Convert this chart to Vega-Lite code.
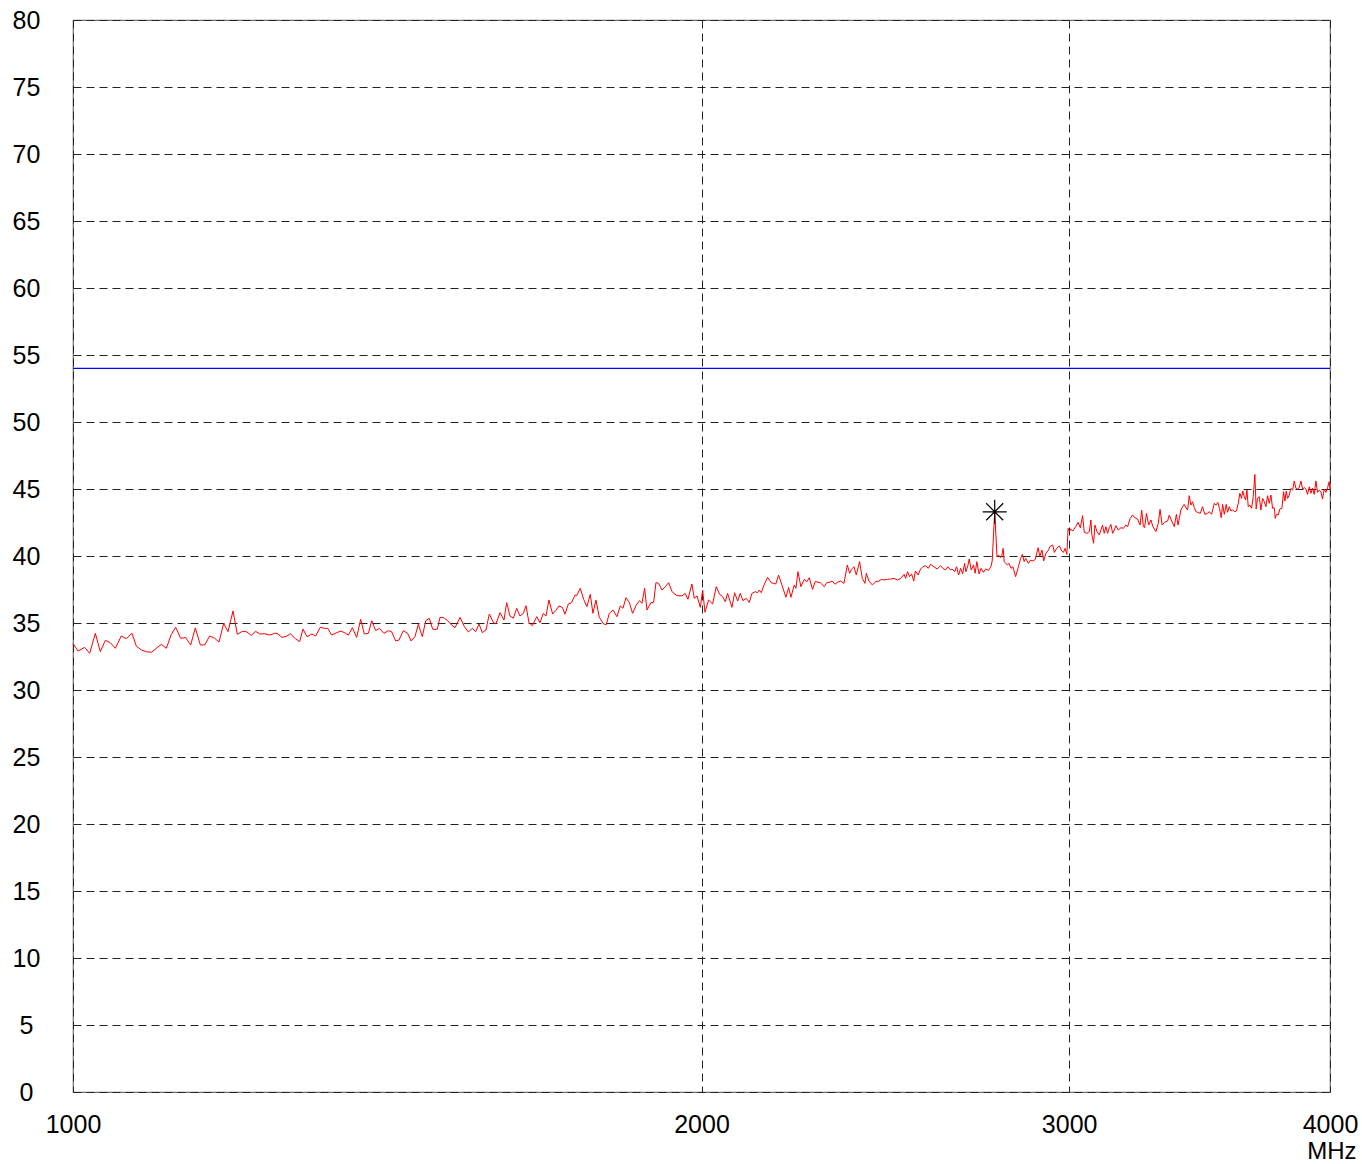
{
  "$schema": "https://vega.github.io/schema/vega-lite/v6.json",
  "width": 1257,
  "height": 1072,
  "autosize": {"type": "none"},
  "padding": {"left": 73, "top": 20, "right": 32, "bottom": 72},
  "background": "white",
  "config": {
    "view": {"stroke": "#707070", "strokeWidth": 1.2},
    "font": "Liberation Sans",
    "axis": {"labelFont": "Liberation Sans", "titleFont": "Liberation Sans", "labelColor": "#000", "titleColor": "#000"}
  },
  "datasets": {
    "trace": [
      {"f":1000,"v":33.48},{"f":1005.5,"v":32.91},{"f":1012.9,"v":33.18},{"f":1018.6,"v":32.74},{"f":1024.9,"v":34.23},{"f":1030.6,"v":32.86},{"f":1036.3,"v":33.71},{"f":1042.0,"v":33.53},{"f":1047.8,"v":33.11},{"f":1054.7,"v":34.03},{"f":1060.6,"v":33.83},{"f":1067.2,"v":34.23},{"f":1072.3,"v":33.28},{"f":1078.3,"v":32.99},{"f":1084.2,"v":32.86},{"f":1090.2,"v":32.81},{"f":1096.3,"v":33.11},{"f":1102.3,"v":33.41},{"f":1108.4,"v":33.11},{"f":1114.5,"v":34.15},{"f":1119.9,"v":34.68},{"f":1126.1,"v":33.86},{"f":1132.3,"v":33.91},{"f":1138.6,"v":33.36},{"f":1144.4,"v":34.63},{"f":1150.8,"v":33.36},{"f":1156.3,"v":33.36},{"f":1162.7,"v":34.03},{"f":1169.1,"v":33.86},{"f":1174.7,"v":33.58},{"f":1180.8,"v":34.97},{"f":1186.4,"v":34.35},{"f":1193.0,"v":35.9},{"f":1198.7,"v":34.15},{"f":1205.3,"v":34.38},{"f":1210.6,"v":34.35},{"f":1217.3,"v":34.08},{"f":1223.2,"v":34.38},{"f":1228.6,"v":34.18},{"f":1235.4,"v":34.2},{"f":1242.2,"v":34.1},{"f":1249.1,"v":34.23},{"f":1252.3,"v":34.23},{"f":1259.2,"v":33.93},{"f":1265.2,"v":34.0},{"f":1270.8,"v":34.2},{"f":1277.9,"v":33.83},{"f":1284.0,"v":33.61},{"f":1288.7,"v":34.55},{"f":1294.4,"v":33.98},{"f":1301.6,"v":34.18},{"f":1306.8,"v":34.03},{"f":1313.6,"v":34.68},{"f":1319.9,"v":34.6},
      {"f":1324.3,"v":34.6},{"f":1330.1,"v":34.1},{"f":1337.5,"v":34.28},{"f":1343.9,"v":34.4},{"f":1350.8,"v":34.23},{"f":1354.8,"v":34.1},{"f":1360.8,"v":34.65},{"f":1367.3,"v":33.93},{"f":1373.4,"v":35.27},{"f":1378.9,"v":34.18},{"f":1385.1,"v":34.23},{"f":1390.2,"v":35.17},{"f":1396.3,"v":34.43},{"f":1401.9,"v":34.6},{"f":1409.2,"v":34.23},{"f":1415.9,"v":34.43},{"f":1421.1,"v":34.35},{"f":1427.4,"v":33.66},{"f":1432.7,"v":33.73},{"f":1439.5,"v":34.43},{"f":1446.4,"v":34.23},{"f":1451.8,"v":33.66},{"f":1458.1,"v":33.98},{"f":1463.5,"v":34.9},{"f":1470.0,"v":33.98},{"f":1475.5,"v":35.17},{"f":1481.4,"v":35.35},{"f":1486.9,"v":34.53},{"f":1494.5,"v":34.53},{"f":1498.9,"v":35.42},{"f":1504.5,"v":35.42},{"f":1511.6,"v":35.17},{"f":1518.3,"v":34.85},{"f":1524.0,"v":34.65},{"f":1532.5,"v":35.42},{"f":1539.7,"v":34.73},{"f":1546.5,"v":34.33},{"f":1553.4,"v":34.6},{"f":1559.1,"v":34.35},{"f":1564.8,"v":34.93},{"f":1570.6,"v":34.28},{"f":1576.9,"v":34.48},{"f":1582.7,"v":35.67},{"f":1589.7,"v":35.05},{"f":1594.3,"v":34.93},{"f":1601.5,"v":35.77},{"f":1608.5,"v":35.22},{"f":1613.3,"v":36.52},{"f":1619.2,"v":35.52},{"f":1625.2,"v":35.35},{"f":1631.2,"v":36.1},{"f":1637.1,"v":35.52},{"f":1643.2,"v":35.72},{"f":1648.0,"v":36.29},{"f":1653.5,"v":35.02},{"f":1659.6,"v":34.8},{"f":1667.6,"v":35.47},{"f":1673.7,"v":35.02},{"f":1679.8,"v":35.72},{"f":1684.8,"v":35.52},{"f":1690.3,"v":36.72},{"f":1697.2,"v":35.67},{"f":1702.8,"v":35.92},{"f":1709.1,"v":36.27},{"f":1715.4,"v":36.17},{"f":1720.4,"v":35.65},{"f":1726.8,"v":36.42},{"f":1733.1,"v":36.52},{"f":1739.5,"v":37.09},{"f":1742.8,"v":37.04},
      {"f":1749.7,"v":37.59},{"f":1756.2,"v":36.77},{"f":1762.6,"v":36.22},{"f":1769.1,"v":37.14},{"f":1774.3,"v":35.72},{"f":1780.2,"v":36.72},{"f":1786.8,"v":35.42},{"f":1795.3,"v":34.93},{"f":1800.6,"v":34.88},{"f":1806.6,"v":35.72},{"f":1813.9,"v":35.97},{"f":1821.9,"v":35.47},{"f":1828.7,"v":36.27},{"f":1834.1,"v":36.1},{"f":1840.2,"v":36.89},{"f":1847.0,"v":36.52},{"f":1853.6,"v":35.72},{"f":1861.2,"v":36.34},{"f":1868.1,"v":36.67},{"f":1872.9,"v":36.47},{"f":1878.4,"v":37.59},{"f":1883.3,"v":35.97},{"f":1891.5,"v":36.52},{"f":1897.1,"v":36.52},{"f":1902.0,"v":38.01},{"f":1907.6,"v":37.96},{"f":1914.7,"v":37.46},{"f":1921.7,"v":37.71},{"f":1928.8,"v":38.01},{"f":1935.9,"v":37.34},{"f":1946.5,"v":37.04},{"f":1957.3,"v":37.02},{"f":1964.5,"v":37.21},{"f":1970.3,"v":36.77},{"f":1979.0,"v":37.91},{"f":1984.1,"v":36.84},{"f":1990.2,"v":37.02},{"f":1997.4,"v":36.17},{"f":2002.5,"v":37.46},{"f":2007.7,"v":35.8},{"f":2015.7,"v":36.72},{"f":2024.7,"v":36.42},{"f":2032.8,"v":37.71},{"f":2040.4,"v":37.14},{"f":2047.1,"v":36.97},{"f":2053.2,"v":36.59},{"f":2058.4,"v":37.21},{"f":2068.3,"v":36.17},{"f":2074.4,"v":37.26},{"f":2081.3,"v":36.64},{"f":2087.3,"v":37.21},{"f":2093.5,"v":36.67},{"f":2101.2,"v":36.84},{"f":2108.2,"v":36.54},{"f":2114.4,"v":37.21},{"f":2122.2,"v":37.34},{"f":2127.6,"v":37.26},{"f":2131.5,"v":37.46},{"f":2136.2,"v":37.26},{"f":2141.8,"v":37.76},{"f":2151.2,"v":38.41},{"f":2159.8,"v":38.01},{"f":2170.8,"v":37.91},{"f":2177.5,"v":38.58},{"f":2185.4,"v":37.84},{"f":2195.2,"v":36.92},{"f":2201.7,"v":37.66},{"f":2207.3,"v":36.92},{"f":2215.5,"v":37.84},{"f":2219.5,"v":37.59},{"f":2224.4,"v":38.83},{"f":2231.7,"v":37.71},{"f":2239.9,"v":38.26},{"f":2246.6,"v":38.09},{"f":2252.4,"v":38.38},{"f":2260.6,"v":37.51},{"f":2267.1,"v":38.09},{"f":2279.8,"v":38.01},{"f":2290.0,"v":37.71},{"f":2296.6,"v":38.03},
      {"f":2301.9,"v":38.03},{"f":2310.4,"v":38.13},{"f":2317.2,"v":37.89},{"f":2323.1,"v":38.03},{"f":2331.7,"v":38.13},{"f":2340.3,"v":37.96},{"f":2348.9,"v":39.33},{"f":2355.0,"v":38.71},{"f":2360.2,"v":39.03},{"f":2366.2,"v":39.2},{"f":2372.3,"v":38.58},{"f":2380.9,"v":39.58},{"f":2388.1,"v":38.33},{"f":2395.1,"v":37.96},{"f":2398.7,"v":38.71},{"f":2405.7,"v":38.13},{"f":2414.6,"v":37.84},{"f":2423.5,"v":38.08},{"f":2432.4,"v":38.13},{"f":2439.6,"v":38.26},{"f":2445.8,"v":38.21},{"f":2455.0,"v":38.26},{"f":2464.0,"v":38.28},{"f":2473.1,"v":38.33},{"f":2482.1,"v":38.21},{"f":2491.3,"v":38.33},{"f":2500.5,"v":38.63},{"f":2505.0,"v":38.33},{"f":2510.2,"v":38.83},{"f":2515.7,"v":38.46},{"f":2521.5,"v":38.66},{"f":2527.5,"v":38.13},{"f":2532.0,"v":38.88},{"f":2539.5,"v":38.58},{"f":2546.7,"v":39.03},{"f":2553.0,"v":39.2},{"f":2560.7,"v":39.28},{"f":2568.3,"v":39.08},{"f":2574.8,"v":39.38},{"f":2584.4,"v":39.2},{"f":2593.7,"v":39.03},{"f":2603.2,"v":39.28},{"f":2609.9,"v":39.08},{"f":2617.4,"v":38.96},{"f":2624.1,"v":39.2},{"f":2631.7,"v":38.96},{"f":2636.5,"v":39.03},{"f":2644.2,"v":38.83},{"f":2649.9,"v":39.2},{"f":2655.6,"v":38.58},{"f":2661.6,"v":39.08},{"f":2667.4,"v":38.66},{"f":2673.3,"v":39.45},{"f":2677.1,"v":38.83},{"f":2683.0,"v":39.28},{"f":2686.9,"v":39.78},{"f":2692.8,"v":38.96},{"f":2699.6,"v":39.33},{"f":2704.6,"v":38.71},{"f":2709.5,"v":39.58},{"f":2716.3,"v":38.66},{"f":2722.4,"v":39.08},{"f":2729.3,"v":38.78},{"f":2736.1,"v":39.03},{"f":2744.7,"v":38.93},{"f":2751.9,"v":39.2},{"f":2755.9,"v":39.63},{"f":2763.5,"v":43.3},{"f":2770.6,"v":39.95},{"f":2775.3,"v":40.07},{"f":2780.5,"v":39.88},{"f":2785.2,"v":40.02},{"f":2789.3,"v":40.57},{"f":2792.7,"v":39.58},{"f":2802.2,"v":39.33},{"f":2807.4,"v":39.45},{"f":2813.6,"v":39.08},{"f":2819.5,"v":39.2},{"f":2828.0,"v":38.46},{"f":2836.6,"v":39.2},{"f":2843.8,"v":39.83},{"f":2849.1,"v":40.12},{"f":2854.9,"v":39.58},{"f":2859.5,"v":39.83},{"f":2868.1,"v":39.45},{"f":2874.3,"v":39.68},{"f":2882.6,"v":39.63},{"f":2890.0,"v":39.75},{"f":2899.1,"v":40.62},{"f":2904.5,"v":39.95},{"f":2911.4,"v":40.45},{"f":2917.0,"v":39.63},{"f":2924.0,"v":40.2},{"f":2932.5,"v":40.45},{"f":2937.3,"v":40.7},{"f":2946.0,"v":40.82},{"f":2951.6,"v":40.27},{"f":2959.0,"v":40.57},{"f":2967.9,"v":40.75},{"f":2975.6,"v":40.37},{"f":2981.0,"v":40.27},{"f":2986.6,"v":40.57},{"f":2992.4,"v":40.12},{"f":2996.5,"v":42.06},{"f":3000.8,"v":41.82},{"f":3004.8,"v":42.01},{"f":3012.4,"v":41.87},{"f":3021.6,"v":42.19},{"f":3029.4,"v":42.51},{"f":3037.2,"v":42.11},
      {"f":3044.8,"v":43.01},{"f":3050.4,"v":41.77},{"f":3059.4,"v":41.69},{"f":3067.5,"v":41.82},{"f":3072.9,"v":42.69},{"f":3076.2,"v":41.57},{"f":3082.0,"v":40.95},{"f":3086.5,"v":42.31},{"f":3093.3,"v":41.82},{"f":3101.3,"v":41.57},{"f":3106.9,"v":41.94},{"f":3112.6,"v":42.31},{"f":3118.4,"v":41.69},{"f":3124.1,"v":42.19},{"f":3129.9,"v":41.69},{"f":3135.7,"v":42.11},{"f":3141.4,"v":42.36},{"f":3147.3,"v":41.69},{"f":3153.0,"v":41.94},{"f":3158.9,"v":42.26},{"f":3166.9,"v":41.94},{"f":3176.3,"v":42.11},{"f":3185.6,"v":42.07},{"f":3193.4,"v":42.31},{"f":3199.8,"v":42.19},{"f":3208.9,"v":42.81},{"f":3217.3,"v":43.06},{"f":3225.1,"v":42.86},{"f":3234.9,"v":42.76},{"f":3244.1,"v":42.31},{"f":3249.9,"v":43.43},{"f":3255.8,"v":42.19},{"f":3260.3,"v":42.11},{"f":3267.0,"v":43.18},{"f":3275.0,"v":42.31},{"f":3283.2,"v":42.69},{"f":3290.3,"v":42.19},{"f":3301.3,"v":41.82},{"f":3309.7,"v":42.44},{"f":3316.4,"v":43.48},{"f":3323.9,"v":42.31},{"f":3332.7,"v":42.51},{"f":3344.0,"v":42.61},{"f":3350.3,"v":43.06},{"f":3357.4,"v":42.69},{"f":3368.7,"v":42.19},{"f":3376.8,"v":43.11},{"f":3382.8,"v":42.31},{"f":3393.4,"v":43.43},{"f":3399.6,"v":43.68},{"f":3405.8,"v":43.85},{"f":3412.2,"v":43.61},{"f":3418.8,"v":43.43},{"f":3424.8,"v":44.5},{"f":3431.2,"v":43.8},{"f":3437.6,"v":44.05},{"f":3443.9,"v":43.61},{"f":3450.2,"v":43.31},{"f":3456.6,"v":43.26},{"f":3466.9,"v":43.18},{"f":3475.3,"v":43.68},{"f":3484.3,"v":43.11},{"f":3494.8,"v":43.18},{"f":3500.8,"v":43.31},{"f":3510.2,"v":43.11},{"f":3520.9,"v":43.93},{"f":3527.4,"v":43.8},{"f":3534.4,"v":44.0},{"f":3540.9,"v":43.56},{"f":3547.7,"v":42.86},{"f":3553.2,"v":43.85},{"f":3559.8,"v":43.11},{"f":3567.5,"v":43.85},{"f":3572.7,"v":43.26},{"f":3579.4,"v":43.68},{"f":3585.9,"v":43.36},{"f":3592.4,"v":43.43},{"f":3601.3,"v":43.31},{"f":3608.1,"v":43.36},{"f":3615.0,"v":43.93},{"f":3621.5,"v":44.68},{"f":3628.2,"v":44.3},{"f":3633.4,"v":44.85},{"f":3639.1,"v":44.43},{"f":3644.4,"v":44.18},{"f":3649.8,"v":44.92},{"f":3655.1,"v":43.68},{"f":3661.8,"v":43.8},{"f":3668.5,"v":43.56},{"f":3675.3,"v":44.43},{"f":3681.9,"v":46.09},{"f":3687.2,"v":43.51},{"f":3692.8,"v":44.3},{"f":3699.7,"v":44.43},{"f":3706.4,"v":43.43},{"f":3713.5,"v":44.3},{"f":3720.3,"v":44.05},{"f":3727.1,"v":43.68},{"f":3733.9,"v":44.5},{"f":3740.8,"v":43.93},{"f":3747.7,"v":44.55},{"f":3754.5,"v":43.56},{"f":3761.4,"v":43.61},{"f":3765.6,"v":42.81},{"f":3771.1,"v":43.11},{"f":3778.1,"v":43.06},{"f":3785.0,"v":43.51},{"f":3793.4,"v":43.56},{"f":3800.4,"v":44.8},{"f":3806.0,"v":44.1},{"f":3811.6,"v":44.85},{"f":3817.2,"v":44.3},{"f":3824.2,"v":44.55},{"f":3831.2,"v":45.05},{"f":3838.6,"v":44.92},{"f":3845.4,"v":45.6},{"f":3852.4,"v":45.05},{"f":3859.4,"v":45.0},{"f":3866.6,"v":45.1},{"f":3873.7,"v":45.6},{"f":3880.9,"v":45.0},{"f":3888.1,"v":45.1},{"f":3895.2,"v":45.0},{"f":3902.3,"v":44.6},{"f":3909.6,"v":45.17},{"f":3916.7,"v":44.68},{"f":3923.8,"v":45.05},{"f":3931.0,"v":44.6},{"f":3938.3,"v":45.6},{"f":3945.5,"v":44.75},{"f":3952.8,"v":44.92},{"f":3960.0,"v":44.8},{"f":3967.2,"v":44.25},{"f":3974.7,"v":45.0},{"f":3982.0,"v":44.75},{"f":3989.3,"v":45.1},{"f":3996.5,"v":45.55},{"f":4000,"v":44.92}
    ],
    "limit": [{"v": 54}],
    "peak": [{"f": 2763.5, "v": 43.3}]
  },
  "encoding": {
    "x": {
      "field": "f", "type": "quantitative",
      "scale": {"type": "log", "domain": [1000, 4000], "nice": false},
      "axis": {
        "values": [1000, 2000, 3000, 4000], "format": "d",
        "grid": true, "gridDash": [8, 5], "gridColor": "#222", "gridWidth": 1, "gridOpacity": 1,
        "ticks": false, "tickSize": 0, "domain": false,
        "labelFontSize": 25, "labelPadding": 32, "labelBaseline": "middle",
        "labelFlush": false, "labelOverlap": false,
        "title": "MHz", "titleFontSize": 24, "titleFontWeight": "normal",
        "titleX": 1283, "titleY": 59, "titleAlign": "right", "titleBaseline": "middle", "titleAnchor": null
      }
    },
    "y": {
      "field": "v", "type": "quantitative",
      "scale": {"domain": [0, 80], "nice": false},
      "axis": {
        "values": [0, 5, 10, 15, 20, 25, 30, 35, 40, 45, 50, 55, 60, 65, 70, 75, 80],
        "grid": true, "gridDash": [8, 5], "gridColor": "#222", "gridWidth": 1, "gridOpacity": 1,
        "ticks": false, "tickSize": 0, "domain": false,
        "labelFontSize": 25, "labelPadding": 47, "labelAlign": "center", "labelBaseline": "middle",
        "labelFlush": false, "labelOverlap": false,
        "title": null
      }
    }
  },
  "layer": [
    {
      "data": {"name": "limit"},
      "mark": {"type": "rule", "color": "#0000ff", "strokeWidth": 1.2},
      "encoding": {"x": null}
    },
    {
      "data": {"name": "trace"},
      "mark": {"type": "line", "color": "#ff0000", "strokeWidth": 1, "interpolate": "linear"}
    },
    {
      "data": {"name": "peak"},
      "mark": {
        "type": "point", "filled": false, "stroke": "#000", "strokeWidth": 1.2, "opacity": 1,
        "shape": "M-1,0L1,0M0,-1L0,1M-0.7071,-0.7071L0.7071,0.7071M-0.7071,0.7071L0.7071,-0.7071",
        "size": 576
      }
    }
  ]
}
